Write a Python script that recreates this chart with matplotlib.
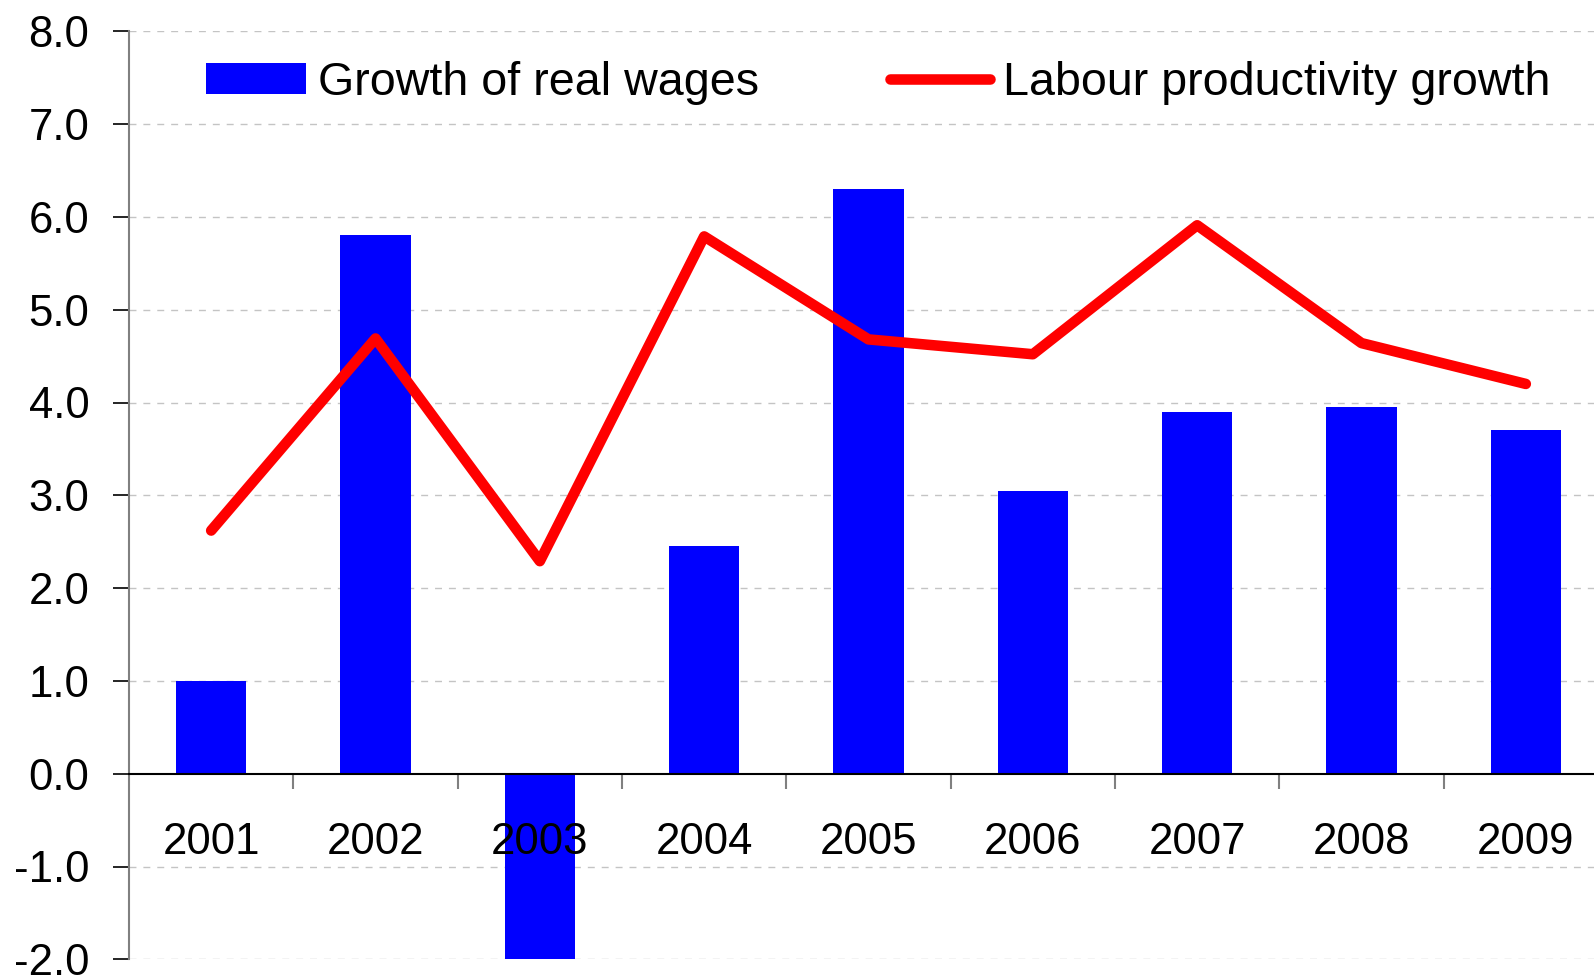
import matplotlib
matplotlib.use("Agg")
import matplotlib.pyplot as plt
from matplotlib.ticker import FixedLocator, NullFormatter, FormatStrFormatter

plt.rcParams['font.family'] = ['Liberation Sans', 'DejaVu Sans']

years = ["2001", "2002", "2003", "2004", "2005", "2006", "2007", "2008", "2009"]
real_wages = [1.0, 5.8, -2.0, 2.45, 6.3, 3.05, 3.9, 3.95, 3.7]
productivity = [2.62, 4.69, 2.29, 5.79, 4.68, 4.52, 5.91, 4.64, 4.2]
y_ticks = [-2, -1, 0, 1, 2, 3, 4, 5, 6, 7, 8]

W, H = 1594, 975
fig = plt.figure(figsize=(W / 100, H / 100), dpi=100)
ax = fig.add_axes([129 / W, 15.7 / H, 1479 / W, 928 / H])

x = list(range(len(years)))
bars = ax.bar(x, real_wages, width=0.43, color="#0000ff", zorder=1.2,
              label="Growth of real wages")
line, = ax.plot(x, productivity, color="#ff0000", lw=7.6,
                solid_capstyle="round", solid_joinstyle="round", zorder=3,
                label="Labour productivity growth")

ax.set_xlim(-0.5, len(years) - 0.5)
ax.set_ylim(-2, 8)

# horizontal dashed grid
for v in y_ticks:
    if v != 0:
        ax.axhline(v, color="#c4c4c4", lw=1.0, ls=(0, (5, 5)), zorder=1.0)

# spines
for s in ("top", "right"):
    ax.spines[s].set_visible(False)
ax.spines["left"].set_color("#808080")
ax.spines["left"].set_linewidth(1.5)
ax.spines["bottom"].set_position(("data", 0))
ax.spines["bottom"].set_color("black")
ax.spines["bottom"].set_linewidth(1.5)
ax.spines["bottom"].set_zorder(4)

# y axis
ax.yaxis.set_major_locator(FixedLocator(y_ticks))
ax.yaxis.set_major_formatter(FormatStrFormatter("%.1f"))
ax.tick_params(axis="y", which="major", direction="out", length=11.5,
               width=1.2, color="black", pad=17, labelsize=31.5)

# x axis: category labels centred, boundary ticks between them
ax.set_xticks(x)
ax.set_xticklabels(years)
ax.tick_params(axis="x", which="major", length=0, pad=34.5, labelsize=31.5)
ax.xaxis.set_minor_locator(FixedLocator([i + 0.5 for i in range(len(years) - 1)]))
ax.xaxis.set_minor_formatter(NullFormatter())
ax.tick_params(axis="x", which="minor", direction="out", length=11,
               width=1.5, color="#808080")

fs = 33.6
ax.legend(handles=[bars, line], loc="center left",
          bbox_to_anchor=(206 / W, 1 - 83 / H), bbox_transform=fig.transFigure,
          ncol=2, frameon=False, fontsize=fs, borderpad=0, borderaxespad=0,
          handlelength=2.14, handleheight=0.65, handletextpad=0.27,
          columnspacing=2.8)

fig.savefig("out.png", dpi=100)
